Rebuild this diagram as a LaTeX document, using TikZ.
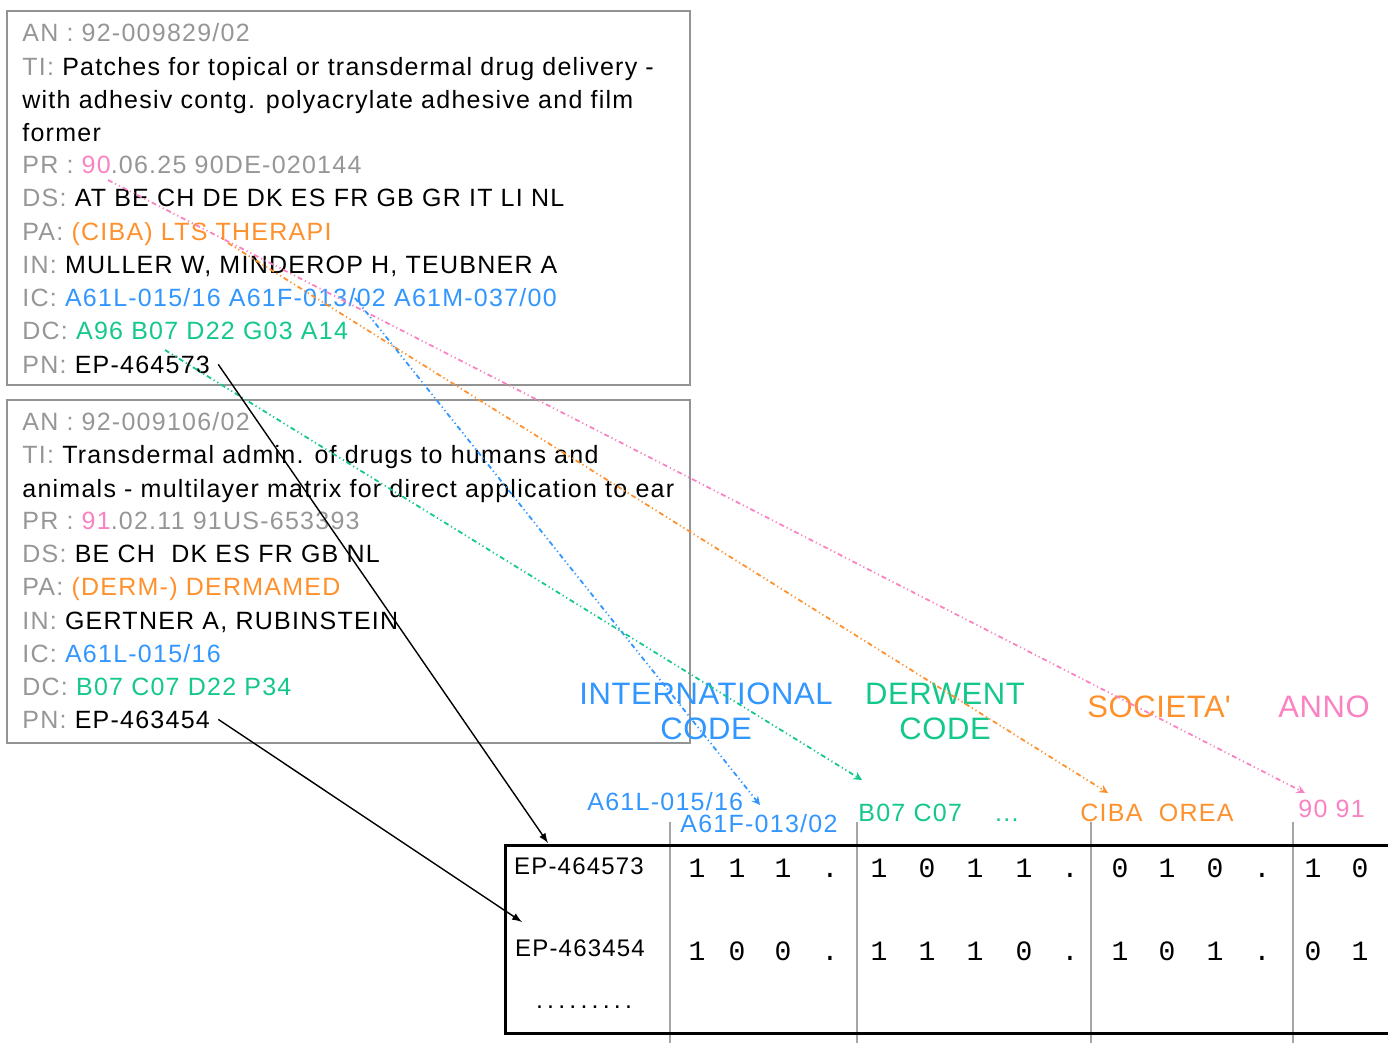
\documentclass[tikz,border=0pt]{standalone}
\usepackage{fontspec}
\setmainfont{Liberation Sans}[LetterSpace=5]
\newfontfamily\headfont{Liberation Sans}[LetterSpace=2]
\newfontfamily\bitfont{Liberation Mono}
\usepackage{tikz}
\usetikzlibrary{calc}
\usetikzlibrary{arrows}

\definecolor{labgray}{RGB}{150,150,150}
\definecolor{annopink}{RGB}{250,130,195}
\definecolor{socorange}{RGB}{255,145,45}
\definecolor{icblue}{RGB}{50,150,255}
\definecolor{dcgreen}{RGB}{20,200,140}

\begin{document}
\begin{tikzpicture}[x=0.5pt,y=-0.5pt,
    txt/.style={anchor=base west,inner sep=0pt,font=\fontsize{12.5}{15}\selectfont},
    head/.style={align=center,inner sep=0pt,font=\headfont\fontsize{15.5}{17.5}\selectfont},
    bit/.style={anchor=base,inner sep=0pt,font=\bitfont\fontsize{14}{14}\selectfont},
    box/.style={draw=gray!85,line width=1pt},
    link/.style={line width=0.9pt,dash pattern=on 2.5pt off 1.5pt on 0.6pt off 1.5pt on 0.6pt off 1.5pt,-stealth},
    pnarrow/.style={black,line width=0.7pt,-latex}]
\useasboundingbox (0,0) rectangle (1388,1043);

\coordinate (ps) at (108, 180);
\coordinate (pe) at (1305, 793);
\coordinate (os) at (228, 243);
\coordinate (oe) at (1108, 793);
\coordinate (bs) at (355, 298);
\coordinate (be) at (760, 805);
\coordinate (gs) at (165, 350);
\coordinate (ge) at (862, 780);
\coordinate (t1) at (548, 843);
\coordinate (t2) at (522, 922);

\newcommand{\lab}[1]{\textcolor{labgray}{#1}}

\newcommand{\recline}[3]{
    \node[txt] (#1) at (22,#2) {#3};
}

\newcommand{\linkline}[3]{
    \draw[link,#1] (#2)--(#3);
}

\newcommand{\drawrecords}{
    \draw[box] (7,11) rectangle (690,385);
    \recline{an1}{42}{\lab{AN : 92-009829/02}}
    \recline{ti1}{76}{\lab{TI:} Patches for topical or transdermal drug delivery -}
    \recline{ti1b}{109}{with adhesiv contg. polyacrylate adhesive and film}
    \recline{ti1c}{142}{former}
    \recline{pr1}{174}{\lab{PR : }\textcolor{annopink}{90}\lab{.06.25 90DE-020144}}
    \recline{ds1}{207}{\lab{DS:} AT BE CH DE DK ES FR GB GR IT LI NL}
    \recline{pa1}{241}{\lab{PA:} \textcolor{socorange}{(CIBA) LTS THERAPI}}
    \recline{in1}{274}{\lab{IN:} MULLER W, MINDEROP H, TEUBNER A}
    \recline{ic1}{307}{\lab{IC:} \textcolor{icblue}{A61L-015/16 A61F-013/02 A61M-037/00}}
    \recline{dc1}{340}{\lab{DC:} \textcolor{dcgreen}{A96 B07 D22 G03 A14}}
    \recline{pn1}{373}{\lab{PN:} EP-464573}

    \draw[box] (7,400) rectangle (690,743);
    \recline{an2}{430}{\lab{AN : 92-009106/02}}
    \recline{ti2}{464}{\lab{TI:} Transdermal admin. of drugs to humans and}
    \recline{ti2b}{497}{animals - multilayer matrix for direct application to ear}
    \recline{pr2}{529}{\lab{PR : }\textcolor{annopink}{91}\lab{.02.11 91US-653393}}
    \recline{ds2}{562}{\lab{DS:} BE CH~~DK ES FR GB NL}
    \recline{pa2}{595}{\lab{PA:} \textcolor{socorange}{(DERM-) DERMAMED}}
    \recline{in2}{629}{\lab{IN:} GERTNER A, RUBINSTEIN}
    \recline{ic2}{662}{\lab{IC:} \textcolor{icblue}{A61L-015/16}}
    \recline{dc2}{695}{\lab{DC:} \textcolor{dcgreen}{B07 C07 D22 P34}}
    \recline{pn2}{728}{\lab{PN:} EP-463454}
}

\newcommand{\drawheads}{
    \node[head,text=icblue] (hic) at (706,711) {INTERNATIONAL\\CODE};
    \node[head,text=dcgreen] (hdc) at (945,711) {DERWENT\\CODE};
    \node[head,text=socorange] (hsoc) at (1159,707) {SOCIETA\textquotesingle};
    \node[head,text=annopink] (hanno) at (1324,707) {ANNO};

    \node[txt,text=icblue] (lic1) at (587,810) {A61L-015/16};
    \node[txt,text=icblue] (lic2) at (680,832) {A61F-013/02};
    \node[txt,text=dcgreen] (ldc) at (858,821) {B07 C07\quad~...};
    \node[txt,text=socorange] (lpa) at (1080,821) {CIBA~~OREA};
    \node[txt,text=annopink] (lpr) at (1298,817) {90 91};
}

\newcommand{\drawtable}{
    \foreach \x in {670,857,1091,1293}
        \draw[gray!70,line width=1pt] (\x,822)--(\x,1043);
    \draw[black,line width=1.5pt] (1395,845)--(505,845)--(505,1033)--(1395,1033);
    \node[txt,anchor=base,font=\fontsize{12}{14}\selectfont] (r1) at (579,874) {EP-464573};
    \node[txt,anchor=base,font=\fontsize{12}{14}\selectfont] (r2) at (580,956) {EP-463454};
    \node[txt,anchor=base] (r3) at (584,1008) {.\,.\,.\,.\,.\,.\,.\,.\,.};
    \foreach \x/\v [count=\i] in {697/1,737/1,783/1,830/.,879/1,927/0,975/1,1024/1,1070/.,
                                 1120/0,1167/1,1215/0,1262/.,1313/1,1360/0}
        \node[bit] (a\i) at (\x,877) {\v};
    \foreach \x/\v [count=\i] in {697/1,737/0,783/0,830/.,879/1,927/1,975/1,1024/0,1070/.,
                                 1120/1,1167/0,1215/1,1262/.,1313/0,1360/1}
        \node[bit] (b\i) at (\x,960) {\v};
}

\newcommand{\drawlinks}{
    \linkline{annopink}{ps}{pe}
    \linkline{socorange}{os}{oe}
    \linkline{icblue}{bs}{be}
    \linkline{dcgreen}{gs}{ge}
    \draw[pnarrow] ([xshift=4pt]pn1.east)--(t1);
    \draw[pnarrow] ([xshift=4pt]pn2.east)--(t2);
}

    \drawrecords
    \drawheads
    \drawtable
    \drawlinks
\end{tikzpicture}
\end{document}
